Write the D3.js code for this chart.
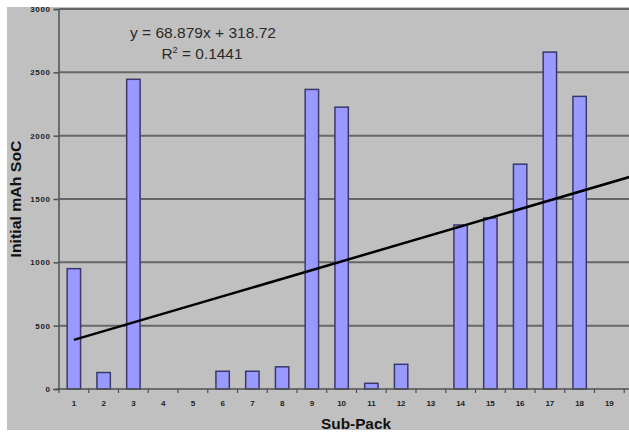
<!DOCTYPE html>
<html>
<head>
<meta charset="utf-8">
<script src="https://cdn.jsdelivr.net/npm/d3@7"></script>
<style>
  html, body { margin: 0; padding: 0; background: #ffffff; }
  svg { display: block; font-family: Arial, "Liberation Sans", sans-serif; }
</style>
</head>
<body>
<svg id="chart" width="629" height="433"></svg>
<script>
// ---- data ----
const categories = ["1","2","3","4","5","6","7","8","9","10","11","12","13","14","15","16","17","18","19"];
const values = [950, 130, 2445, 0, 0, 140, 140, 175, 2365, 2225, 45, 195, 0, 1295, 1350, 1775, 2660, 2310, 0];
const yTicks = [0, 500, 1000, 1500, 2000, 2500, 3000];
const trendSlope = 68.879;
const trendIntercept = 318.72;
const trendRange = [1, 20];
const equationText = "y = 68.879x + 318.72";
const r2Value = "0.1441";
const xTitle = "Sub-Pack";
const yTitle = "Initial mAh SoC";

// ---- layout ----
const svg = d3.select("#chart");
const plotLeft = 59, plotTop = 9, plotBottom = 389;
const step = 29.75;
const plotRight = plotLeft + (categories.length + 1) * step; // plot continues past the cropped edge

svg.append("rect").attr("x", 7).attr("y", 7).attr("width", 622).attr("height", 423).attr("fill", "#c0c0c0");

const x = d3.scaleBand().domain(categories)
  .range([plotLeft, plotLeft + categories.length * step])
  .paddingInner(0.55).paddingOuter(0.275);
const xStep = x.step();
const xCenter = c => x(c) + x.bandwidth() / 2;
const xAt = k => xCenter(categories[0]) + (k - 1) * xStep;
const y = d3.scaleLinear().domain([0, 3000]).range([plotBottom, plotTop]);

// gridlines
svg.append("g").selectAll("line").data(yTicks.filter(t => t > 0)).join("line")
  .attr("x1", plotLeft).attr("x2", plotRight)
  .attr("y1", d => y(d)).attr("y2", d => y(d))
  .attr("stroke", "#676767").attr("stroke-width", 2);

// bars
const data = categories.map((c, i) => ({ c, v: values[i] })).filter(d => d.v != null && d.v > 0);
svg.append("g").selectAll("rect").data(data).join("rect")
  .attr("x", d => x(d.c))
  .attr("y", d => y(d.v))
  .attr("width", x.bandwidth())
  .attr("height", d => y(0) - y(d.v))
  .attr("fill", "#9999ff")
  .attr("stroke", "#3a3a6a").attr("stroke-width", 1.5);

// y axis
const yAxis = d3.axisLeft(y).tickValues(yTicks).tickFormat(d3.format("d")).tickSize(5).tickPadding(3);
const gy = svg.append("g").attr("transform", `translate(${plotLeft - 0.5},0)`).call(yAxis);
gy.select(".domain").attr("stroke", "#505050").attr("stroke-width", 1.5);
gy.selectAll(".tick line").attr("stroke", "#505050").attr("stroke-width", 1.5);
gy.selectAll(".tick text").attr("font-size", 8).attr("font-weight", "bold").attr("fill", "#222")
  .attr("letter-spacing", 0.6);

// x axis: ticks at category boundaries
const gx = svg.append("g").attr("transform", `translate(0,${plotBottom})`);
gx.append("line").attr("x1", plotLeft - 2).attr("x2", plotRight).attr("y1", 0).attr("y2", 0)
  .attr("stroke", "#505050").attr("stroke-width", 1.5);
gx.selectAll("line.tk").data(d3.range(categories.length + 2)).join("line").attr("class", "tk")
  .attr("x1", i => plotLeft + i * xStep).attr("x2", i => plotLeft + i * xStep)
  .attr("y1", 0).attr("y2", 4).attr("stroke", "#505050").attr("stroke-width", 1.2);
gx.selectAll("text").data(categories).join("text")
  .attr("x", d => xCenter(d)).attr("y", 17)
  .attr("text-anchor", "middle").attr("font-size", 8).attr("font-weight", "bold").attr("fill", "#222")
  .text(d => d);

// trendline
svg.append("line")
  .attr("x1", xAt(trendRange[0])).attr("y1", y(trendSlope * trendRange[0] + trendIntercept))
  .attr("x2", xAt(trendRange[1])).attr("y2", y(trendSlope * trendRange[1] + trendIntercept))
  .attr("stroke", "#000").attr("stroke-width", 2.5);

// equation
svg.append("text").attr("x", 203).attr("y", 38).attr("text-anchor", "middle")
  .attr("font-size", 15).attr("fill", "#2a2a2a")
  .attr("textLength", 146).attr("lengthAdjust", "spacingAndGlyphs")
  .text(equationText);
const r2 = svg.append("text").attr("x", 202).attr("y", 59).attr("text-anchor", "middle")
  .attr("font-size", 15).attr("fill", "#2a2a2a")
  .attr("textLength", 81).attr("lengthAdjust", "spacingAndGlyphs");
r2.append("tspan").text("R");
r2.append("tspan").attr("dy", -6).attr("font-size", 9).text("2");
r2.append("tspan").attr("dy", 6).text(" = " + r2Value);

// axis titles
svg.append("text").attr("x", 356).attr("y", 429).attr("text-anchor", "middle")
  .attr("font-size", 15).attr("font-weight", "bold").attr("fill", "#111")
  .attr("textLength", 70).attr("lengthAdjust", "spacingAndGlyphs")
  .text(xTitle);
svg.append("text").attr("transform", "translate(21,199) rotate(-90)").attr("text-anchor", "middle")
  .attr("font-size", 15).attr("font-weight", "bold").attr("fill", "#111")
  .attr("textLength", 117).attr("lengthAdjust", "spacingAndGlyphs")
  .text(yTitle);
</script>
</body>
</html>
